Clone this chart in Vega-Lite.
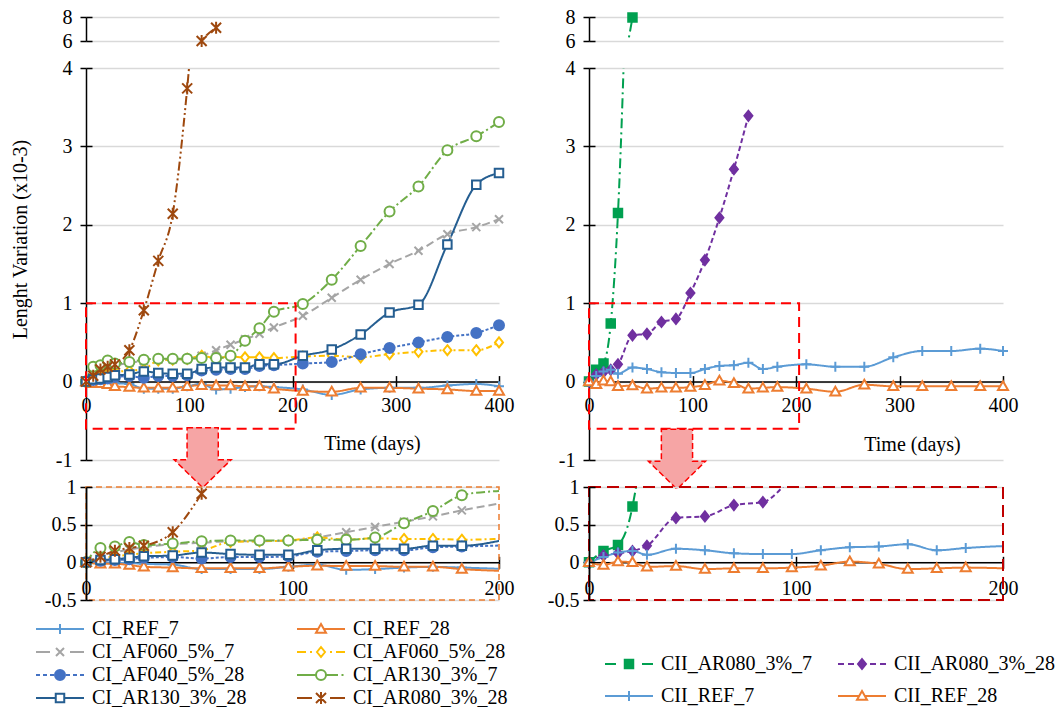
{
  "$schema": "https://vega.github.io/schema/vega-lite/v6.json",
  "background": "white",
  "padding": {"left": 10, "top": 7, "right": 0, "bottom": 0},
  "bounds": "flush",
  "columns": 2,
  "spacing": {"row": 27, "column": 90},
  "config": {
    "view": {"stroke": null},
    "axis": {"labelFont": "Liberation Serif", "labelFontSize": 20, "labelColor": "#000", "titleFont": "Liberation Serif", "titleFontSize": 20, "titleFontWeight": "normal", "titleColor": "#000", "domainColor": "#000", "domainWidth": 1.5, "tickColor": "#000", "tickWidth": 1.5, "gridColor": "#d9d9d9", "gridWidth": 1.5, "labelFlush": false}
  },
  "datasets": {
    "L": [
      {"s":"CI_REF_7","d":0,"v":0},{"s":"CI_REF_7","d":7,"v":0},{"s":"CI_REF_7","d":14,"v":-0.01},{"s":"CI_REF_7","d":21,"v":-0.01},{"s":"CI_REF_7","d":28,"v":-0.02},{"s":"CI_REF_7","d":42,"v":-0.03},{"s":"CI_REF_7","d":56,"v":-0.09},{"s":"CI_REF_7","d":70,"v":-0.09},{"s":"CI_REF_7","d":84,"v":-0.09},{"s":"CI_REF_7","d":98,"v":-0.06},{"s":"CI_REF_7","d":112,"v":-0.03},{"s":"CI_REF_7","d":126,"v":-0.1},{"s":"CI_REF_7","d":140,"v":-0.09},{"s":"CI_REF_7","d":154,"v":-0.07},{"s":"CI_REF_7","d":168,"v":-0.06},{"s":"CI_REF_7","d":182,"v":-0.07},{"s":"CI_REF_7","d":210,"v":-0.1},{"s":"CI_REF_7","d":238,"v":-0.17},{"s":"CI_REF_7","d":266,"v":-0.1},{"s":"CI_REF_7","d":294,"v":-0.08},{"s":"CI_REF_7","d":322,"v":-0.08},{"s":"CI_REF_7","d":350,"v":-0.05},{"s":"CI_REF_7","d":378,"v":-0.03},{"s":"CI_REF_7","d":400,"v":-0.06},
      {"s":"CI_REF_28","d":0,"v":0},{"s":"CI_REF_28","d":7,"v":-0.02},{"s":"CI_REF_28","d":14,"v":-0.02},{"s":"CI_REF_28","d":21,"v":-0.035},{"s":"CI_REF_28","d":28,"v":-0.06},{"s":"CI_REF_28","d":42,"v":-0.07},{"s":"CI_REF_28","d":56,"v":-0.08},{"s":"CI_REF_28","d":70,"v":-0.08},{"s":"CI_REF_28","d":84,"v":-0.08},{"s":"CI_REF_28","d":98,"v":-0.06},{"s":"CI_REF_28","d":112,"v":-0.045},{"s":"CI_REF_28","d":126,"v":-0.05},{"s":"CI_REF_28","d":140,"v":-0.05},{"s":"CI_REF_28","d":154,"v":-0.06},{"s":"CI_REF_28","d":168,"v":-0.06},{"s":"CI_REF_28","d":182,"v":-0.09},{"s":"CI_REF_28","d":210,"v":-0.12},{"s":"CI_REF_28","d":238,"v":-0.13},{"s":"CI_REF_28","d":266,"v":-0.08},{"s":"CI_REF_28","d":294,"v":-0.08},{"s":"CI_REF_28","d":322,"v":-0.09},{"s":"CI_REF_28","d":350,"v":-0.1},{"s":"CI_REF_28","d":378,"v":-0.12},{"s":"CI_REF_28","d":400,"v":-0.12},
      {"s":"CI_AF060_5%_7","d":0,"v":0},{"s":"CI_AF060_5%_7","d":7,"v":0.08},{"s":"CI_AF060_5%_7","d":14,"v":0.13},{"s":"CI_AF060_5%_7","d":21,"v":0.17},{"s":"CI_AF060_5%_7","d":28,"v":0.2},{"s":"CI_AF060_5%_7","d":42,"v":0.24},{"s":"CI_AF060_5%_7","d":56,"v":0.26},{"s":"CI_AF060_5%_7","d":70,"v":0.28},{"s":"CI_AF060_5%_7","d":84,"v":0.28},{"s":"CI_AF060_5%_7","d":98,"v":0.29},{"s":"CI_AF060_5%_7","d":112,"v":0.33},{"s":"CI_AF060_5%_7","d":126,"v":0.4},{"s":"CI_AF060_5%_7","d":140,"v":0.47},{"s":"CI_AF060_5%_7","d":154,"v":0.54},{"s":"CI_AF060_5%_7","d":168,"v":0.61},{"s":"CI_AF060_5%_7","d":182,"v":0.69},{"s":"CI_AF060_5%_7","d":210,"v":0.84},{"s":"CI_AF060_5%_7","d":238,"v":1.07},{"s":"CI_AF060_5%_7","d":266,"v":1.3},{"s":"CI_AF060_5%_7","d":294,"v":1.5},{"s":"CI_AF060_5%_7","d":322,"v":1.67},{"s":"CI_AF060_5%_7","d":350,"v":1.88},{"s":"CI_AF060_5%_7","d":378,"v":1.97},{"s":"CI_AF060_5%_7","d":400,"v":2.07},
      {"s":"CI_AF060_5%_28","d":0,"v":0},{"s":"CI_AF060_5%_28","d":7,"v":0.05},{"s":"CI_AF060_5%_28","d":14,"v":0.08},{"s":"CI_AF060_5%_28","d":21,"v":0.1},{"s":"CI_AF060_5%_28","d":28,"v":0.12},{"s":"CI_AF060_5%_28","d":42,"v":0.14},{"s":"CI_AF060_5%_28","d":56,"v":0.16},{"s":"CI_AF060_5%_28","d":70,"v":0.27},{"s":"CI_AF060_5%_28","d":84,"v":0.28},{"s":"CI_AF060_5%_28","d":98,"v":0.29},{"s":"CI_AF060_5%_28","d":112,"v":0.33},{"s":"CI_AF060_5%_28","d":126,"v":0.3},{"s":"CI_AF060_5%_28","d":140,"v":0.32},{"s":"CI_AF060_5%_28","d":154,"v":0.31},{"s":"CI_AF060_5%_28","d":168,"v":0.31},{"s":"CI_AF060_5%_28","d":182,"v":0.3},{"s":"CI_AF060_5%_28","d":210,"v":0.32},{"s":"CI_AF060_5%_28","d":238,"v":0.33},{"s":"CI_AF060_5%_28","d":266,"v":0.31},{"s":"CI_AF060_5%_28","d":294,"v":0.35},{"s":"CI_AF060_5%_28","d":322,"v":0.38},{"s":"CI_AF060_5%_28","d":350,"v":0.4},{"s":"CI_AF060_5%_28","d":378,"v":0.4},{"s":"CI_AF060_5%_28","d":400,"v":0.5},
      {"s":"CI_AF040_5%_28","d":0,"v":0},{"s":"CI_AF040_5%_28","d":7,"v":0.02},{"s":"CI_AF040_5%_28","d":14,"v":0.03},{"s":"CI_AF040_5%_28","d":21,"v":0.04},{"s":"CI_AF040_5%_28","d":28,"v":0.06},{"s":"CI_AF040_5%_28","d":42,"v":0.07},{"s":"CI_AF040_5%_28","d":56,"v":0.05},{"s":"CI_AF040_5%_28","d":70,"v":0.07},{"s":"CI_AF040_5%_28","d":84,"v":0.07},{"s":"CI_AF040_5%_28","d":98,"v":0.08},{"s":"CI_AF040_5%_28","d":112,"v":0.14},{"s":"CI_AF040_5%_28","d":126,"v":0.15},{"s":"CI_AF040_5%_28","d":140,"v":0.16},{"s":"CI_AF040_5%_28","d":154,"v":0.16},{"s":"CI_AF040_5%_28","d":168,"v":0.2},{"s":"CI_AF040_5%_28","d":182,"v":0.21},{"s":"CI_AF040_5%_28","d":210,"v":0.23},{"s":"CI_AF040_5%_28","d":238,"v":0.25},{"s":"CI_AF040_5%_28","d":266,"v":0.35},{"s":"CI_AF040_5%_28","d":294,"v":0.43},{"s":"CI_AF040_5%_28","d":322,"v":0.5},{"s":"CI_AF040_5%_28","d":350,"v":0.57},{"s":"CI_AF040_5%_28","d":378,"v":0.62},{"s":"CI_AF040_5%_28","d":400,"v":0.72},
      {"s":"CI_AR130_3%_7","d":0,"v":0},{"s":"CI_AR130_3%_7","d":7,"v":0.19},{"s":"CI_AR130_3%_7","d":14,"v":0.21},{"s":"CI_AR130_3%_7","d":21,"v":0.27},{"s":"CI_AR130_3%_7","d":28,"v":0.23},{"s":"CI_AR130_3%_7","d":42,"v":0.25},{"s":"CI_AR130_3%_7","d":56,"v":0.28},{"s":"CI_AR130_3%_7","d":70,"v":0.29},{"s":"CI_AR130_3%_7","d":84,"v":0.29},{"s":"CI_AR130_3%_7","d":98,"v":0.29},{"s":"CI_AR130_3%_7","d":112,"v":0.3},{"s":"CI_AR130_3%_7","d":126,"v":0.3},{"s":"CI_AR130_3%_7","d":140,"v":0.33},{"s":"CI_AR130_3%_7","d":154,"v":0.52},{"s":"CI_AR130_3%_7","d":168,"v":0.68},{"s":"CI_AR130_3%_7","d":182,"v":0.89},{"s":"CI_AR130_3%_7","d":210,"v":0.99},{"s":"CI_AR130_3%_7","d":238,"v":1.3},{"s":"CI_AR130_3%_7","d":266,"v":1.73},{"s":"CI_AR130_3%_7","d":294,"v":2.17},{"s":"CI_AR130_3%_7","d":322,"v":2.49},{"s":"CI_AR130_3%_7","d":350,"v":2.95},{"s":"CI_AR130_3%_7","d":378,"v":3.13},{"s":"CI_AR130_3%_7","d":400,"v":3.31},
      {"s":"CI_AR130_3%_28","d":0,"v":0},{"s":"CI_AR130_3%_28","d":7,"v":0.03},{"s":"CI_AR130_3%_28","d":14,"v":0.04},{"s":"CI_AR130_3%_28","d":21,"v":0.06},{"s":"CI_AR130_3%_28","d":28,"v":0.08},{"s":"CI_AR130_3%_28","d":42,"v":0.09},{"s":"CI_AR130_3%_28","d":56,"v":0.13},{"s":"CI_AR130_3%_28","d":70,"v":0.11},{"s":"CI_AR130_3%_28","d":84,"v":0.1},{"s":"CI_AR130_3%_28","d":98,"v":0.1},{"s":"CI_AR130_3%_28","d":112,"v":0.16},{"s":"CI_AR130_3%_28","d":126,"v":0.18},{"s":"CI_AR130_3%_28","d":140,"v":0.18},{"s":"CI_AR130_3%_28","d":154,"v":0.18},{"s":"CI_AR130_3%_28","d":168,"v":0.22},{"s":"CI_AR130_3%_28","d":182,"v":0.22},{"s":"CI_AR130_3%_28","d":210,"v":0.33},{"s":"CI_AR130_3%_28","d":238,"v":0.41},{"s":"CI_AR130_3%_28","d":266,"v":0.6},{"s":"CI_AR130_3%_28","d":294,"v":0.88},{"s":"CI_AR130_3%_28","d":322,"v":0.98},{"s":"CI_AR130_3%_28","d":350,"v":1.75},{"s":"CI_AR130_3%_28","d":378,"v":2.51},{"s":"CI_AR130_3%_28","d":400,"v":2.66},
      {"s":"CI_AR080_3%_28","d":0,"v":0},{"s":"CI_AR080_3%_28","d":7,"v":0.075},{"s":"CI_AR080_3%_28","d":14,"v":0.155},{"s":"CI_AR080_3%_28","d":21,"v":0.19},{"s":"CI_AR080_3%_28","d":28,"v":0.22},{"s":"CI_AR080_3%_28","d":42,"v":0.4},{"s":"CI_AR080_3%_28","d":56,"v":0.91},{"s":"CI_AR080_3%_28","d":70,"v":1.54},{"s":"CI_AR080_3%_28","d":84,"v":2.14},{"s":"CI_AR080_3%_28","d":98,"v":3.74},{"s":"CI_AR080_3%_28","d":112,"v":6.0},{"s":"CI_AR080_3%_28","d":126,"v":7.1}
    ],
    "R": [
      {"s":"CII_AR080_3%_7","d":0,"v":0},{"s":"CII_AR080_3%_7","d":7,"v":0.15},{"s":"CII_AR080_3%_7","d":14,"v":0.23},{"s":"CII_AR080_3%_7","d":21,"v":0.74},{"s":"CII_AR080_3%_7","d":28,"v":2.15},{"s":"CII_AR080_3%_7","d":42,"v":7.95},
      {"s":"CII_AR080_3%_28","d":0,"v":0},{"s":"CII_AR080_3%_28","d":7,"v":0.09},{"s":"CII_AR080_3%_28","d":14,"v":0.12},{"s":"CII_AR080_3%_28","d":21,"v":0.15},{"s":"CII_AR080_3%_28","d":28,"v":0.22},{"s":"CII_AR080_3%_28","d":42,"v":0.59},{"s":"CII_AR080_3%_28","d":56,"v":0.61},{"s":"CII_AR080_3%_28","d":70,"v":0.76},{"s":"CII_AR080_3%_28","d":84,"v":0.8},{"s":"CII_AR080_3%_28","d":98,"v":1.13},{"s":"CII_AR080_3%_28","d":112,"v":1.55},{"s":"CII_AR080_3%_28","d":126,"v":2.09},{"s":"CII_AR080_3%_28","d":140,"v":2.71},{"s":"CII_AR080_3%_28","d":154,"v":3.39},
      {"s":"CII_REF_7","d":0,"v":0},{"s":"CII_REF_7","d":7,"v":0.07},{"s":"CII_REF_7","d":14,"v":0.13},{"s":"CII_REF_7","d":21,"v":0.15},{"s":"CII_REF_7","d":28,"v":0.1},{"s":"CII_REF_7","d":42,"v":0.18},{"s":"CII_REF_7","d":56,"v":0.16},{"s":"CII_REF_7","d":70,"v":0.12},{"s":"CII_REF_7","d":84,"v":0.11},{"s":"CII_REF_7","d":98,"v":0.11},{"s":"CII_REF_7","d":112,"v":0.16},{"s":"CII_REF_7","d":126,"v":0.2},{"s":"CII_REF_7","d":140,"v":0.21},{"s":"CII_REF_7","d":154,"v":0.24},{"s":"CII_REF_7","d":168,"v":0.16},{"s":"CII_REF_7","d":182,"v":0.19},{"s":"CII_REF_7","d":210,"v":0.22},{"s":"CII_REF_7","d":238,"v":0.19},{"s":"CII_REF_7","d":266,"v":0.19},{"s":"CII_REF_7","d":294,"v":0.31},{"s":"CII_REF_7","d":322,"v":0.39},{"s":"CII_REF_7","d":350,"v":0.39},{"s":"CII_REF_7","d":378,"v":0.42},{"s":"CII_REF_7","d":400,"v":0.39},
      {"s":"CII_REF_28","d":0,"v":0},{"s":"CII_REF_28","d":7,"v":-0.035},{"s":"CII_REF_28","d":14,"v":0.01},{"s":"CII_REF_28","d":21,"v":0.0},{"s":"CII_REF_28","d":28,"v":-0.06},{"s":"CII_REF_28","d":42,"v":-0.05},{"s":"CII_REF_28","d":56,"v":-0.09},{"s":"CII_REF_28","d":70,"v":-0.08},{"s":"CII_REF_28","d":84,"v":-0.08},{"s":"CII_REF_28","d":98,"v":-0.07},{"s":"CII_REF_28","d":112,"v":-0.045},{"s":"CII_REF_28","d":126,"v":0.01},{"s":"CII_REF_28","d":140,"v":-0.02},{"s":"CII_REF_28","d":154,"v":-0.09},{"s":"CII_REF_28","d":168,"v":-0.08},{"s":"CII_REF_28","d":182,"v":-0.07},{"s":"CII_REF_28","d":210,"v":-0.09},{"s":"CII_REF_28","d":238,"v":-0.13},{"s":"CII_REF_28","d":266,"v":-0.04},{"s":"CII_REF_28","d":294,"v":-0.06},{"s":"CII_REF_28","d":322,"v":-0.06},{"s":"CII_REF_28","d":350,"v":-0.06},{"s":"CII_REF_28","d":378,"v":-0.06},{"s":"CII_REF_28","d":400,"v":-0.06}
    ]
  },
  "resolve": {"scale": {"x": "independent", "y": "independent", "stroke": "independent", "fill": "independent", "shape": "independent", "strokeDash": "independent"}, "legend": {"stroke": "independent", "fill": "independent", "shape": "independent", "strokeDash": "independent"}, "axis": {"x": "independent", "y": "independent"}},
  "concat": [
    {
      "width": 413, "height": 24,
      "resolve": {"axis": {"x": "independent", "y": "independent"}},
      "layer": [
        {"data": {"name": "L"}, "mark": {"type": "line", "clip": true, "strokeWidth": 2, "interpolate": "monotone"},
         "encoding": {
           "x": {"field": "d", "type": "quantitative", "scale": {"domain": [0, 400], "nice": false}, "axis": null},
           "y": {"field": "v", "type": "quantitative", "scale": {"domain": [6, 8], "nice": false, "zero": false}, "axis": {"orient": "left", "values": [6, 8], "grid": true, "tickSize": 6, "labelPadding": 8, "title": null, "labelExpr": "'' + datum.value"}},
           "stroke": {"field": "s", "type": "nominal", "scale": {"domain": ["CI_REF_7","CI_REF_28","CI_AF060_5%_7","CI_AF060_5%_28","CI_AF040_5%_28","CI_AR130_3%_7","CI_AR130_3%_28","CI_AR080_3%_28"], "range": ["#5b9bd5","#ed7d31","#a5a5a5","#ffc000","#4472c4","#70ad47","#255e91","#9e480e"]}, "legend": null},
           "strokeDash": {"field": "s", "type": "nominal", "scale": {"domain": ["CI_REF_7","CI_REF_28","CI_AF060_5%_7","CI_AF060_5%_28","CI_AF040_5%_28","CI_AR130_3%_7","CI_AR130_3%_28","CI_AR080_3%_28"], "range": [[1,0],[1,0],[8,4],[6,3,2,3],[3,2],[9,3,2,3],[1,0],[9,3,2,3,2,3]]}, "legend": null}
         }},
        {"data": {"name": "L"}, "transform": [{"filter": "datum.v >= 5.9"}], "mark": {"type": "point", "size": 100, "strokeWidth": 2, "opacity": 1},
         "encoding": {
           "x": {"field": "d", "type": "quantitative", "axis": null},
           "y": {"field": "v", "type": "quantitative", "axis": {"orient": "right", "offset": -413, "values": [6, 8], "labels": false, "domain": false, "grid": false, "tickSize": 6, "title": null}},
           "stroke": {"field": "s", "type": "nominal", "scale": {"domain": ["CI_REF_7","CI_REF_28","CI_AF060_5%_7","CI_AF060_5%_28","CI_AF040_5%_28","CI_AR130_3%_7","CI_AR130_3%_28","CI_AR080_3%_28"], "range": ["#5b9bd5","#ed7d31","#a5a5a5","#ffc000","#4472c4","#70ad47","#255e91","#9e480e"]}, "legend": null},
           "fill": {"field": "s", "type": "nominal", "scale": {"domain": ["CI_REF_7","CI_REF_28","CI_AF060_5%_7","CI_AF060_5%_28","CI_AF040_5%_28","CI_AR130_3%_7","CI_AR130_3%_28","CI_AR080_3%_28"], "range": ["#5b9bd5","#ffffff","#a5a5a5","#ffffff","#4472c4","#ffffff","#ffffff","#9e480e"]}, "legend": null},
           "shape": {"field": "s", "type": "nominal", "scale": {"domain": ["CI_REF_7","CI_REF_28","CI_AF060_5%_7","CI_AF060_5%_28","CI_AF040_5%_28","CI_AR130_3%_7","CI_AR130_3%_28","CI_AR080_3%_28"], "range": ["M-1,0L1,0M0,-1L0,1","M0,-1L1,0.75L-1,0.75Z","M-0.8,-0.8L0.8,0.8M-0.8,0.8L0.8,-0.8","M0,-1L0.8,0L0,1L-0.8,0Z","M1,0A1,1,0,1,1,-1,0A1,1,0,1,1,1,0Z","M1,0A1,1,0,1,1,-1,0A1,1,0,1,1,1,0Z","M-0.85,-0.85L0.85,-0.85L0.85,0.85L-0.85,0.85Z","M0,-1.2L0,1.2M-1,-1L1,1M-1,1L1,-1"]}, "legend": null}
         }}
      ]
    },
    {
      "width": 414, "height": 24,
      "resolve": {"axis": {"x": "independent", "y": "independent"}},
      "layer": [
        {"data": {"name": "R"}, "mark": {"type": "line", "clip": true, "strokeWidth": 2, "interpolate": "monotone"},
         "encoding": {
           "x": {"field": "d", "type": "quantitative", "scale": {"domain": [0, 400], "nice": false}, "axis": null},
           "y": {"field": "v", "type": "quantitative", "scale": {"domain": [6, 8], "nice": false, "zero": false}, "axis": {"orient": "left", "values": [6, 8], "grid": true, "tickSize": 6, "labelPadding": 8, "title": null, "labelExpr": "'' + datum.value"}},
           "stroke": {"field": "s", "type": "nominal", "scale": {"domain": ["CII_AR080_3%_7","CII_AR080_3%_28","CII_REF_7","CII_REF_28"], "range": ["#00a050","#7030a0","#5b9bd5","#ed7d31"]}, "legend": null},
           "strokeDash": {"field": "s", "type": "nominal", "scale": {"domain": ["CII_AR080_3%_7","CII_AR080_3%_28","CII_REF_7","CII_REF_28"], "range": [[10,4,2,4],[5,3],[1,0],[1,0]]}, "legend": null}
         }},
        {"data": {"name": "R"}, "transform": [{"filter": "datum.v >= 5.9"}], "mark": {"type": "point", "size": 100, "strokeWidth": 2, "opacity": 1},
         "encoding": {
           "x": {"field": "d", "type": "quantitative", "axis": null},
           "y": {"field": "v", "type": "quantitative", "axis": {"orient": "right", "offset": -414, "values": [6, 8], "labels": false, "domain": false, "grid": false, "tickSize": 6, "title": null}},
           "stroke": {"field": "s", "type": "nominal", "scale": {"domain": ["CII_AR080_3%_7","CII_AR080_3%_28","CII_REF_7","CII_REF_28"], "range": ["#00a050","#7030a0","#5b9bd5","#ed7d31"]}, "legend": null},
           "fill": {"field": "s", "type": "nominal", "scale": {"domain": ["CII_AR080_3%_7","CII_AR080_3%_28","CII_REF_7","CII_REF_28"], "range": ["#00a050","#7030a0","#5b9bd5","#ffffff"]}, "legend": null},
           "shape": {"field": "s", "type": "nominal", "scale": {"domain": ["CII_AR080_3%_7","CII_AR080_3%_28","CII_REF_7","CII_REF_28"], "range": ["M-0.85,-0.85L0.85,-0.85L0.85,0.85L-0.85,0.85Z","M0,-1L0.8,0L0,1L-0.8,0Z","M-1,0L1,0M0,-1L0,1","M0,-1L1,0.75L-1,0.75Z"]}, "legend": null}
         }}
      ]
    },
    {
      "width": 413, "height": 392,
      "resolve": {"axis": {"x": "independent", "y": "independent"}},
      "layer": [
        {"data": {"name": "L"}, "mark": {"type": "line", "clip": true, "strokeWidth": 2, "interpolate": "monotone"},
         "encoding": {
           "x": {"field": "d", "type": "quantitative", "scale": {"domain": [0, 400], "nice": false}, "axis": {"orient": "bottom", "offset": -78.4, "values": [0, 100, 200, 300, 400], "tickSize": 6, "labelPadding": 8, "grid": false, "title": "Time (days)", "titleX": 286, "titleY": 62, "titleBaseline": "middle", "titleAlign": "center"}},
           "y": {"field": "v", "type": "quantitative", "scale": {"domain": [-1, 4], "nice": false}, "axis": {"orient": "left", "values": [-1, 0, 1, 2, 3, 4], "grid": true, "tickSize": 6, "labelPadding": 8, "labelExpr": "'' + datum.value", "title": "Lenght Variation (x10-3)", "titleX": -66, "titleY": 171, "titleAngle": -90, "titleBaseline": "middle", "titleAlign": "center"}},
           "stroke": {"field": "s", "type": "nominal", "scale": {"domain": ["CI_REF_7","CI_REF_28","CI_AF060_5%_7","CI_AF060_5%_28","CI_AF040_5%_28","CI_AR130_3%_7","CI_AR130_3%_28","CI_AR080_3%_28"], "range": ["#5b9bd5","#ed7d31","#a5a5a5","#ffc000","#4472c4","#70ad47","#255e91","#9e480e"]}, "legend": null},
           "strokeDash": {"field": "s", "type": "nominal", "scale": {"domain": ["CI_REF_7","CI_REF_28","CI_AF060_5%_7","CI_AF060_5%_28","CI_AF040_5%_28","CI_AR130_3%_7","CI_AR130_3%_28","CI_AR080_3%_28"], "range": [[1,0],[1,0],[8,4],[6,3,2,3],[3,2],[9,3,2,3],[1,0],[9,3,2,3,2,3]]}, "legend": null}
         }},
        {"data": {"name": "L"}, "transform": [{"filter": "datum.v <= 4.1"}], "mark": {"type": "point", "size": 100, "strokeWidth": 2, "opacity": 1},
         "encoding": {
           "x": {"field": "d", "type": "quantitative", "axis": {"orient": "top", "offset": -313.6, "values": [100, 200, 300, 400], "labels": false, "domain": false, "grid": false, "tickSize": 6, "title": null}},
           "y": {"field": "v", "type": "quantitative", "axis": {"orient": "right", "offset": -413, "values": [-1, 0, 1, 2, 3, 4], "labels": false, "domain": false, "grid": false, "tickSize": 6, "title": null}},
           "stroke": {"field": "s", "type": "nominal", "scale": {"domain": ["CI_REF_7","CI_REF_28","CI_AF060_5%_7","CI_AF060_5%_28","CI_AF040_5%_28","CI_AR130_3%_7","CI_AR130_3%_28","CI_AR080_3%_28"], "range": ["#5b9bd5","#ed7d31","#a5a5a5","#ffc000","#4472c4","#70ad47","#255e91","#9e480e"]}, "legend": null},
           "fill": {"field": "s", "type": "nominal", "scale": {"domain": ["CI_REF_7","CI_REF_28","CI_AF060_5%_7","CI_AF060_5%_28","CI_AF040_5%_28","CI_AR130_3%_7","CI_AR130_3%_28","CI_AR080_3%_28"], "range": ["#5b9bd5","#ffffff","#a5a5a5","#ffffff","#4472c4","#ffffff","#ffffff","#9e480e"]}, "legend": null},
           "shape": {"field": "s", "type": "nominal", "scale": {"domain": ["CI_REF_7","CI_REF_28","CI_AF060_5%_7","CI_AF060_5%_28","CI_AF040_5%_28","CI_AR130_3%_7","CI_AR130_3%_28","CI_AR080_3%_28"], "range": ["M-1,0L1,0M0,-1L0,1","M0,-1L1,0.75L-1,0.75Z","M-0.8,-0.8L0.8,0.8M-0.8,0.8L0.8,-0.8","M0,-1L0.8,0L0,1L-0.8,0Z","M1,0A1,1,0,1,1,-1,0A1,1,0,1,1,1,0Z","M1,0A1,1,0,1,1,-1,0A1,1,0,1,1,1,0Z","M-0.85,-0.85L0.85,-0.85L0.85,0.85L-0.85,0.85Z","M0,-1.2L0,1.2M-1,-1L1,1M-1,1L1,-1"]}, "legend": null}
         }},
        {"data": {"values": [{"x": 0, "x2": 203, "y": -0.6, "y2": 1}]}, "mark": {"type": "rect", "fillOpacity": 0, "stroke": "#ff0000", "strokeWidth": 2, "strokeDash": [10, 6]},
         "encoding": {"x": {"field": "x", "type": "quantitative", "axis": null}, "x2": {"field": "x2"}, "y": {"field": "y", "type": "quantitative", "axis": null}, "y2": {"field": "y2"}}},
        {"data": {"values": [{"x": 113, "y": -0.97}]}, "mark": {"type": "point", "shape": "M-0.52,-1L0.52,-1L0.52,0.07L0.95,0.07L0,1L-0.95,0.07L-0.52,0.07Z", "size": 3600, "filled": true, "fill": "#f6a5a5", "stroke": "#ff0000", "strokeWidth": 1.5, "strokeDash": [6, 3], "opacity": 1},
         "encoding": {"x": {"field": "x", "type": "quantitative", "axis": null}, "y": {"field": "y", "type": "quantitative", "axis": null}}}
      ]
    },
    {
      "width": 414, "height": 392,
      "resolve": {"axis": {"x": "independent", "y": "independent"}},
      "layer": [
        {"data": {"name": "R"}, "mark": {"type": "line", "clip": true, "strokeWidth": 2, "interpolate": "monotone"},
         "encoding": {
           "x": {"field": "d", "type": "quantitative", "scale": {"domain": [0, 400], "nice": false}, "axis": {"orient": "bottom", "offset": -78.4, "values": [0, 100, 200, 300, 400], "tickSize": 6, "labelPadding": 8, "grid": false, "title": "Time (days)", "titleX": 323, "titleY": 63, "titleBaseline": "middle", "titleAlign": "center"}},
           "y": {"field": "v", "type": "quantitative", "scale": {"domain": [-1, 4], "nice": false}, "axis": {"orient": "left", "values": [-1, 0, 1, 2, 3, 4], "grid": true, "tickSize": 6, "labelPadding": 8, "labelExpr": "'' + datum.value", "title": null}},
           "stroke": {"field": "s", "type": "nominal", "scale": {"domain": ["CII_AR080_3%_7","CII_AR080_3%_28","CII_REF_7","CII_REF_28"], "range": ["#00a050","#7030a0","#5b9bd5","#ed7d31"]}, "legend": null},
           "strokeDash": {"field": "s", "type": "nominal", "scale": {"domain": ["CII_AR080_3%_7","CII_AR080_3%_28","CII_REF_7","CII_REF_28"], "range": [[10,4,2,4],[5,3],[1,0],[1,0]]}, "legend": null}
         }},
        {"data": {"name": "R"}, "transform": [{"filter": "datum.v <= 4.1"}], "mark": {"type": "point", "size": 100, "strokeWidth": 2, "opacity": 1},
         "encoding": {
           "x": {"field": "d", "type": "quantitative", "axis": {"orient": "top", "offset": -313.6, "values": [100, 200, 300, 400], "labels": false, "domain": false, "grid": false, "tickSize": 6, "title": null}},
           "y": {"field": "v", "type": "quantitative", "axis": {"orient": "right", "offset": -414, "values": [-1, 0, 1, 2, 3, 4], "labels": false, "domain": false, "grid": false, "tickSize": 6, "title": null}},
           "stroke": {"field": "s", "type": "nominal", "scale": {"domain": ["CII_AR080_3%_7","CII_AR080_3%_28","CII_REF_7","CII_REF_28"], "range": ["#00a050","#7030a0","#5b9bd5","#ed7d31"]}, "legend": null},
           "fill": {"field": "s", "type": "nominal", "scale": {"domain": ["CII_AR080_3%_7","CII_AR080_3%_28","CII_REF_7","CII_REF_28"], "range": ["#00a050","#7030a0","#5b9bd5","#ffffff"]}, "legend": null},
           "shape": {"field": "s", "type": "nominal", "scale": {"domain": ["CII_AR080_3%_7","CII_AR080_3%_28","CII_REF_7","CII_REF_28"], "range": ["M-0.85,-0.85L0.85,-0.85L0.85,0.85L-0.85,0.85Z","M0,-1L0.8,0L0,1L-0.8,0Z","M-1,0L1,0M0,-1L0,1","M0,-1L1,0.75L-1,0.75Z"]}, "legend": null}
         }},
        {"data": {"values": [{"x": 0, "x2": 203, "y": -0.6, "y2": 1}]}, "mark": {"type": "rect", "fillOpacity": 0, "stroke": "#ff0000", "strokeWidth": 2, "strokeDash": [10, 6]},
         "encoding": {"x": {"field": "x", "type": "quantitative", "axis": null}, "x2": {"field": "x2"}, "y": {"field": "y", "type": "quantitative", "axis": null}, "y2": {"field": "y2"}}},
        {"data": {"values": [{"x": 85, "y": -0.99}]}, "mark": {"type": "point", "shape": "M-0.52,-1L0.52,-1L0.52,0.07L0.95,0.07L0,1L-0.95,0.07L-0.52,0.07Z", "size": 3600, "filled": true, "fill": "#f6a5a5", "stroke": "#ff0000", "strokeWidth": 1.5, "strokeDash": [6, 3], "opacity": 1},
         "encoding": {"x": {"field": "x", "type": "quantitative", "axis": null}, "y": {"field": "y", "type": "quantitative", "axis": null}}}
      ]
    },
    {
      "width": 413, "height": 113,
      "resolve": {"axis": {"x": "independent", "y": "independent"}},
      "layer": [
        {"data": {"name": "L"}, "mark": {"type": "line", "clip": true, "strokeWidth": 2, "interpolate": "monotone"},
         "encoding": {
           "x": {"field": "d", "type": "quantitative", "scale": {"domain": [0, 200], "nice": false}, "axis": {"orient": "bottom", "offset": -37.67, "values": [0, 100, 200], "tickSize": 6, "labelPadding": 10, "grid": false, "title": null}},
           "y": {"field": "v", "type": "quantitative", "scale": {"domain": [-0.5, 1], "nice": false}, "axis": {"orient": "left", "values": [-0.5, 0, 0.5, 1], "grid": true, "tickSize": 6, "labelPadding": 4, "labelExpr": "'' + datum.value", "title": null}},
           "stroke": {"field": "s", "type": "nominal", "scale": {"domain": ["CI_REF_7","CI_REF_28","CI_AF060_5%_7","CI_AF060_5%_28","CI_AF040_5%_28","CI_AR130_3%_7","CI_AR130_3%_28","CI_AR080_3%_28"], "range": ["#5b9bd5","#ed7d31","#a5a5a5","#ffc000","#4472c4","#70ad47","#255e91","#9e480e"]}, "legend": null},
           "strokeDash": {"field": "s", "type": "nominal", "scale": {"domain": ["CI_REF_7","CI_REF_28","CI_AF060_5%_7","CI_AF060_5%_28","CI_AF040_5%_28","CI_AR130_3%_7","CI_AR130_3%_28","CI_AR080_3%_28"], "range": [[1,0],[1,0],[8,4],[6,3,2,3],[3,2],[9,3,2,3],[1,0],[9,3,2,3,2,3]]}, "legend": null}
         }},
        {"data": {"values": [{"x": 0, "x2": 200, "y": -0.5, "y2": 1}]}, "mark": {"type": "rect", "fillOpacity": 0, "stroke": "#ed7d31", "strokeWidth": 1.5, "strokeDash": [6, 4]},
         "encoding": {"x": {"field": "x", "type": "quantitative", "axis": null}, "x2": {"field": "x2"}, "y": {"field": "y", "type": "quantitative", "axis": null}, "y2": {"field": "y2"}}},
        {"data": {"name": "L"}, "transform": [{"filter": "datum.d <= 200 && datum.v <= 1.02"}], "mark": {"type": "point", "size": 100, "strokeWidth": 2, "opacity": 1},
         "encoding": {
           "x": {"field": "d", "type": "quantitative", "axis": {"orient": "top", "offset": -75.33, "values": [100, 200], "labels": false, "domain": false, "grid": false, "tickSize": 6, "title": null}},
           "y": {"field": "v", "type": "quantitative", "axis": {"orient": "right", "offset": -413, "values": [-0.5, 0, 0.5, 1], "labels": false, "domain": true, "grid": false, "tickSize": 6, "title": null, "zindex": 1}},
           "stroke": {"field": "s", "type": "nominal", "scale": {"domain": ["CI_REF_7","CI_REF_28","CI_AF060_5%_7","CI_AF060_5%_28","CI_AF040_5%_28","CI_AR130_3%_7","CI_AR130_3%_28","CI_AR080_3%_28"], "range": ["#5b9bd5","#ed7d31","#a5a5a5","#ffc000","#4472c4","#70ad47","#255e91","#9e480e"]}, "legend": null},
           "fill": {"field": "s", "type": "nominal", "scale": {"domain": ["CI_REF_7","CI_REF_28","CI_AF060_5%_7","CI_AF060_5%_28","CI_AF040_5%_28","CI_AR130_3%_7","CI_AR130_3%_28","CI_AR080_3%_28"], "range": ["#5b9bd5","#ffffff","#a5a5a5","#ffffff","#4472c4","#ffffff","#ffffff","#9e480e"]}, "legend": null},
           "shape": {"field": "s", "type": "nominal", "scale": {"domain": ["CI_REF_7","CI_REF_28","CI_AF060_5%_7","CI_AF060_5%_28","CI_AF040_5%_28","CI_AR130_3%_7","CI_AR130_3%_28","CI_AR080_3%_28"], "range": ["M-1,0L1,0M0,-1L0,1","M0,-1L1,0.75L-1,0.75Z","M-0.8,-0.8L0.8,0.8M-0.8,0.8L0.8,-0.8","M0,-1L0.8,0L0,1L-0.8,0Z","M1,0A1,1,0,1,1,-1,0A1,1,0,1,1,1,0Z","M1,0A1,1,0,1,1,-1,0A1,1,0,1,1,1,0Z","M-0.85,-0.85L0.85,-0.85L0.85,0.85L-0.85,0.85Z","M0,-1.2L0,1.2M-1,-1L1,1M-1,1L1,-1"]}, "legend": null}
         }}
      ]
    },
    {
      "width": 414, "height": 113,
      "resolve": {"axis": {"x": "independent", "y": "independent"}},
      "layer": [
        {"data": {"name": "R"}, "mark": {"type": "line", "clip": true, "strokeWidth": 2, "interpolate": "monotone"},
         "encoding": {
           "x": {"field": "d", "type": "quantitative", "scale": {"domain": [0, 200], "nice": false}, "axis": {"orient": "bottom", "offset": -37.67, "values": [0, 100, 200], "tickSize": 6, "labelPadding": 10, "grid": false, "title": null}},
           "y": {"field": "v", "type": "quantitative", "scale": {"domain": [-0.5, 1], "nice": false}, "axis": {"orient": "left", "values": [-0.5, 0, 0.5, 1], "grid": true, "tickSize": 6, "labelPadding": 4, "labelExpr": "'' + datum.value", "title": null}},
           "stroke": {"field": "s", "type": "nominal", "scale": {"domain": ["CII_AR080_3%_7","CII_AR080_3%_28","CII_REF_7","CII_REF_28"], "range": ["#00a050","#7030a0","#5b9bd5","#ed7d31"]}, "legend": null},
           "strokeDash": {"field": "s", "type": "nominal", "scale": {"domain": ["CII_AR080_3%_7","CII_AR080_3%_28","CII_REF_7","CII_REF_28"], "range": [[10,4,2,4],[5,3],[1,0],[1,0]]}, "legend": null}
         }},
        {"data": {"values": [{"x": 0, "x2": 200, "y": -0.5, "y2": 1}]}, "mark": {"type": "rect", "fillOpacity": 0, "stroke": "#c00000", "strokeWidth": 2, "strokeDash": [12, 6]},
         "encoding": {"x": {"field": "x", "type": "quantitative", "axis": null}, "x2": {"field": "x2"}, "y": {"field": "y", "type": "quantitative", "axis": null}, "y2": {"field": "y2"}}},
        {"data": {"name": "R"}, "transform": [{"filter": "datum.d <= 200 && datum.v <= 1.02"}], "mark": {"type": "point", "size": 100, "strokeWidth": 2, "opacity": 1},
         "encoding": {
           "x": {"field": "d", "type": "quantitative", "axis": {"orient": "top", "offset": -75.33, "values": [100, 200], "labels": false, "domain": false, "grid": false, "tickSize": 6, "title": null}},
           "y": {"field": "v", "type": "quantitative", "axis": {"orient": "right", "offset": -414, "values": [-0.5, 0, 0.5, 1], "labels": false, "domain": true, "grid": false, "tickSize": 6, "title": null, "zindex": 1}},
           "stroke": {"field": "s", "type": "nominal", "scale": {"domain": ["CII_AR080_3%_7","CII_AR080_3%_28","CII_REF_7","CII_REF_28"], "range": ["#00a050","#7030a0","#5b9bd5","#ed7d31"]}, "legend": null},
           "fill": {"field": "s", "type": "nominal", "scale": {"domain": ["CII_AR080_3%_7","CII_AR080_3%_28","CII_REF_7","CII_REF_28"], "range": ["#00a050","#7030a0","#5b9bd5","#ffffff"]}, "legend": null},
           "shape": {"field": "s", "type": "nominal", "scale": {"domain": ["CII_AR080_3%_7","CII_AR080_3%_28","CII_REF_7","CII_REF_28"], "range": ["M-0.85,-0.85L0.85,-0.85L0.85,0.85L-0.85,0.85Z","M0,-1L0.8,0L0,1L-0.8,0Z","M-1,0L1,0M0,-1L0,1","M0,-1L1,0.75L-1,0.75Z"]}, "legend": null}
         }}
      ]
    },
    {
      "width": 413, "height": 10,
      "data": {"name": "L"},
      "transform": [{"filter": "datum.d < 0"}],
      "mark": {"type": "point", "size": 100, "strokeWidth": 2, "opacity": 1},
      "encoding": {
        "stroke": {"field": "s", "type": "nominal", "scale": {"domain": ["CI_REF_7","CI_AF060_5%_7","CI_AF040_5%_28","CI_AR130_3%_28","CI_REF_28","CI_AF060_5%_28","CI_AR130_3%_7","CI_AR080_3%_28"], "range": ["#5b9bd5","#a5a5a5","#4472c4","#255e91","#ed7d31","#ffc000","#70ad47","#9e480e"]},
          "legend": {"orient": "none", "legendX": -36, "legendY": -8, "columns": 2, "title": null, "labelFont": "Liberation Serif", "labelFontSize": 20, "labelColor": "#000", "labelOffset": 22, "labelLimit": 400, "symbolSize": 100, "symbolStrokeWidth": 2, "symbolOpacity": 1, "columnPadding": 46, "rowPadding": 3, "padding": 0}},
        "fill": {"field": "s", "type": "nominal", "scale": {"domain": ["CI_REF_7","CI_AF060_5%_7","CI_AF040_5%_28","CI_AR130_3%_28","CI_REF_28","CI_AF060_5%_28","CI_AR130_3%_7","CI_AR080_3%_28"], "range": ["#5b9bd5","#a5a5a5","#4472c4","#ffffff","#ffffff","#ffffff","#ffffff","#9e480e"]},
          "legend": {"orient": "none", "legendX": -36, "legendY": -8, "columns": 2, "title": null, "labelFont": "Liberation Serif", "labelFontSize": 20, "labelColor": "#000", "labelOffset": 22, "labelLimit": 400, "symbolSize": 100, "symbolStrokeWidth": 2, "symbolOpacity": 1, "columnPadding": 46, "rowPadding": 3, "padding": 0}},
        "shape": {"field": "s", "type": "nominal", "scale": {"domain": ["CI_REF_7","CI_AF060_5%_7","CI_AF040_5%_28","CI_AR130_3%_28","CI_REF_28","CI_AF060_5%_28","CI_AR130_3%_7","CI_AR080_3%_28"], "range": [
            "M-4.8,0L4.8,0M0,-1L0,1",
            "M-4.8,0L-2,0M2,0L4.8,0M-0.8,-0.8L0.8,0.8M-0.8,0.8L0.8,-0.8",
            "M-4.8,0L-4,0M-3.4,0L-2.6,0M-2,0L-1.2,0M1.2,0L2,0M2.6,0L3.4,0M4,0L4.8,0M1,0A1,1,0,1,1,-1,0A1,1,0,1,1,1,0Z",
            "M-4.8,0L-0.85,0M0.85,0L4.8,0M-0.85,-0.85L0.85,-0.85L0.85,0.85L-0.85,0.85Z",
            "M-4.8,0L-0.6,0M0.6,0L4.8,0M0,-1L1,0.75L-1,0.75Z",
            "M-4.8,0L-3,0M-2.2,0L-1.8,0M1.8,0L2.2,0M3,0L4.8,0M0,-1L0.8,0L0,1L-0.8,0Z",
            "M-4.8,0L-1,0M1,0L3.4,0M4.1,0L4.5,0M1,0A1,1,0,1,1,-1,0A1,1,0,1,1,1,0Z",
            "M-4.8,0L-1.8,0M1.8,0L4.8,0M0,-1.2L0,1.2M-1,-1L1,1M-1,1L1,-1"]},
          "legend": {"orient": "none", "legendX": -36, "legendY": -8, "columns": 2, "title": null, "labelFont": "Liberation Serif", "labelFontSize": 20, "labelColor": "#000", "labelOffset": 22, "labelLimit": 400, "symbolSize": 100, "symbolStrokeWidth": 2, "symbolOpacity": 1, "columnPadding": 46, "rowPadding": 3, "padding": 0}}
      }
    },
    {
      "width": 414, "height": 10,
      "data": {"name": "R"},
      "transform": [{"filter": "datum.d < 0"}],
      "mark": {"type": "point", "size": 100, "strokeWidth": 2, "opacity": 1},
      "encoding": {
        "stroke": {"field": "s", "type": "nominal", "scale": {"domain": ["CII_AR080_3%_7","CII_REF_7","CII_AR080_3%_28","CII_REF_28"], "range": ["#00a050","#5b9bd5","#7030a0","#ed7d31"]},
          "legend": {"orient": "none", "legendX": 30, "legendY": 27, "columns": 2, "title": null, "labelFont": "Liberation Serif", "labelFontSize": 20, "labelColor": "#000", "labelOffset": 22, "labelLimit": 400, "symbolSize": 100, "symbolStrokeWidth": 2, "symbolOpacity": 1, "columnPadding": 21, "rowPadding": 12, "padding": 0}},
        "fill": {"field": "s", "type": "nominal", "scale": {"domain": ["CII_AR080_3%_7","CII_REF_7","CII_AR080_3%_28","CII_REF_28"], "range": ["#00a050","#5b9bd5","#7030a0","#ffffff"]},
          "legend": {"orient": "none", "legendX": 30, "legendY": 27, "columns": 2, "title": null, "labelFont": "Liberation Serif", "labelFontSize": 20, "labelColor": "#000", "labelOffset": 22, "labelLimit": 400, "symbolSize": 100, "symbolStrokeWidth": 2, "symbolOpacity": 1, "columnPadding": 21, "rowPadding": 12, "padding": 0}},
        "shape": {"field": "s", "type": "nominal", "scale": {"domain": ["CII_AR080_3%_7","CII_REF_7","CII_AR080_3%_28","CII_REF_28"], "range": [
            "M-4.8,0L-2.6,0M2.6,0L4.8,0M-0.85,-0.85L0.85,-0.85L0.85,0.85L-0.85,0.85Z",
            "M-4.8,0L4.8,0M0,-1L0,1",
            "M-4.8,0L-3.6,0M-2.8,0L-1.6,0M1.6,0L2.8,0M3.6,0L4.8,0M0,-1L0.8,0L0,1L-0.8,0Z",
            "M-4.8,0L-0.6,0M0.6,0L4.8,0M0,-1L1,0.75L-1,0.75Z"]},
          "legend": {"orient": "none", "legendX": 30, "legendY": 27, "columns": 2, "title": null, "labelFont": "Liberation Serif", "labelFontSize": 20, "labelColor": "#000", "labelOffset": 22, "labelLimit": 400, "symbolSize": 100, "symbolStrokeWidth": 2, "symbolOpacity": 1, "columnPadding": 21, "rowPadding": 12, "padding": 0}}
      }
    }
  ]
}
